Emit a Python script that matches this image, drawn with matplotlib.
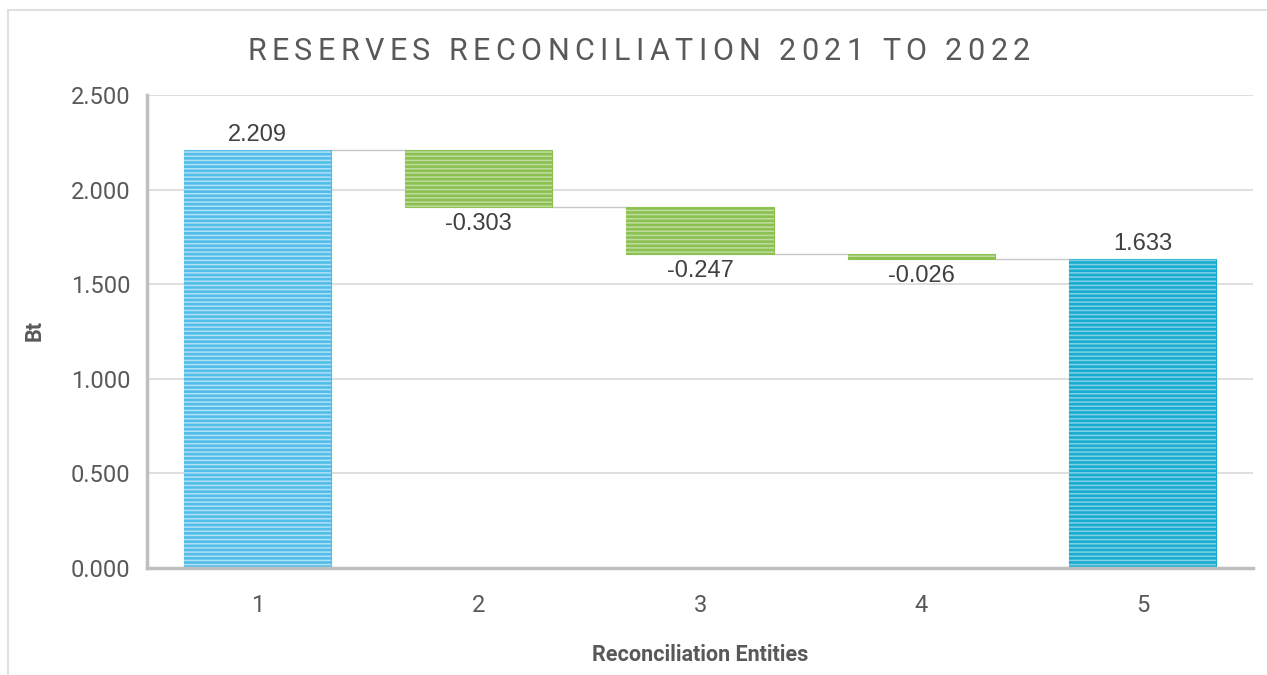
import matplotlib
matplotlib.use("Agg")
import matplotlib.pyplot as plt
from matplotlib.lines import Line2D
import numpy as np

# Waterfall data: opening reserves, changes, closing reserves (Bt)
categories = ["1", "2", "3", "4", "5"]
opening = 2.209
changes = [-0.303, -0.247, -0.026]
closing = 1.633
labels = ["2.209", "-0.303", "-0.247", "-0.026", "1.633"]
yticks = [0.0, 0.5, 1.0, 1.5, 2.0, 2.5]
ytick_labels = ["0.000", "0.500", "1.000", "1.500", "2.000", "2.500"]

title = "RESERVES RECONCILIATION 2021 TO 2022"

plt.rcParams["hatch.linewidth"] = 1.1

fig = plt.figure(figsize=(12.67, 6.75), dpi=100)
ax = fig.add_axes([0.1160, 0.1585, 0.8730, 0.7007])

x = np.arange(1, len(categories) + 1)
width = 0.665

# bar bottoms and heights
bottoms = [0.0]
heights = [opening]
level = opening
for c in changes:
    bottoms.append(level + c)
    heights.append(-c)
    level += c
bottoms.append(0.0)
heights.append(closing)

colors = ["#52bde9", "#8cc152", "#8cc152", "#8cc152", "#19acd1"]
stripe = [(1, 1, 1, 0.55), (1, 1, 1, 0.45), (1, 1, 1, 0.45), (1, 1, 1, 0.45), (1, 1, 1, 0.45)]

for xi, b, h, col, st in zip(x, bottoms, heights, colors, stripe):
    ax.bar(xi, h, bottom=b, width=width, color=col, edgecolor=col, linewidth=0.8, zorder=3)
    ax.bar(xi, h, bottom=b, width=width, fill=False, edgecolor=st, linewidth=0,
           hatch="----", zorder=4)

# connector lines between consecutive bars at the running total
tops = [opening]
level = opening
for c in changes:
    level += c
    tops.append(level)
for i, t in enumerate(tops):
    ax.plot([x[i] + width / 2, x[i + 1] - width / 2], [t, t], color="#c8c8c8", lw=1.0, zorder=2)

# value labels
label_font = dict(family="Liberation Sans", size=17, color="#404040")
for i, (xi, b, h) in enumerate(zip(x, bottoms, heights)):
    if i in (0, len(x) - 1):
        ax.text(xi, b + h + 0.02, labels[i], ha="center", va="bottom", **label_font)
    else:
        ax.text(xi, b - 0.03, labels[i], ha="center", va="top", **label_font)

ax.set_xlim(0.5, 5.5)
ax.set_ylim(0, 2.5)
ax.set_yticks(yticks)
ax.set_yticklabels(ytick_labels)
ax.set_xticks(x)
ax.set_xticklabels(categories)
ax.grid(axis="y", color="#d9d9d9", lw=1.2, zorder=0)
ax.set_axisbelow(True)

for s in ["top", "right"]:
    ax.spines[s].set_visible(False)
for s in ["left", "bottom"]:
    ax.spines[s].set_color("#bfbfbf")
    ax.spines[s].set_linewidth(2.5)
    ax.spines[s].set_zorder(5)

ax.tick_params(axis="both", length=0, colors="#595959", labelsize=17)
ax.tick_params(axis="y", pad=12)
ax.tick_params(axis="x", pad=19)
for lab in ax.get_xticklabels() + ax.get_yticklabels():
    lab.set_family("Roboto")

fig.text(0.0276, 0.5111, "Bt", rotation=90, ha="center", va="center",
         family="Roboto", weight="bold", size=15.5, color="#595959")
fig.text(0.5527, 0.0296, "Reconciliation Entities", ha="center", va="center",
         family="Roboto", weight="bold", size=15.5, color="#595959")

# letter-spaced title
fig.canvas.draw()
renderer = fig.canvas.get_renderer()
title_kw = dict(family="Roboto", size=22, color="#595959", va="baseline", ha="left")
fig_w = fig.bbox.width


def text_width(s):
    t = fig.text(0, 0, s, **title_kw)
    w = t.get_window_extent(renderer).width
    t.remove()
    return w


space_w = text_width("n n") - text_width("nn")
widths = [space_w if ch == " " else text_width(ch) for ch in title]
left_px, right_px = 247.0, 1030.0
gap = (right_px - left_px - sum(widths)) / (len(title) - 1)
pos = left_px
base_y = 1 - 60.0 / 675
for ch, w in zip(title, widths):
    if ch != " ":
        fig.text(pos / fig_w, base_y, ch, **title_kw)
    pos += w + gap

# outer frame lines
fig.add_artist(Line2D([8 / 1267, 1.0], [1 - 10 / 675, 1 - 10 / 675],
                      transform=fig.transFigure, color="#d9d9d9", lw=1.2))
fig.add_artist(Line2D([8 / 1267, 8 / 1267], [0.0, 1 - 10 / 675],
                      transform=fig.transFigure, color="#d9d9d9", lw=1.2))

fig.savefig("out.png", dpi=100, facecolor="white")
